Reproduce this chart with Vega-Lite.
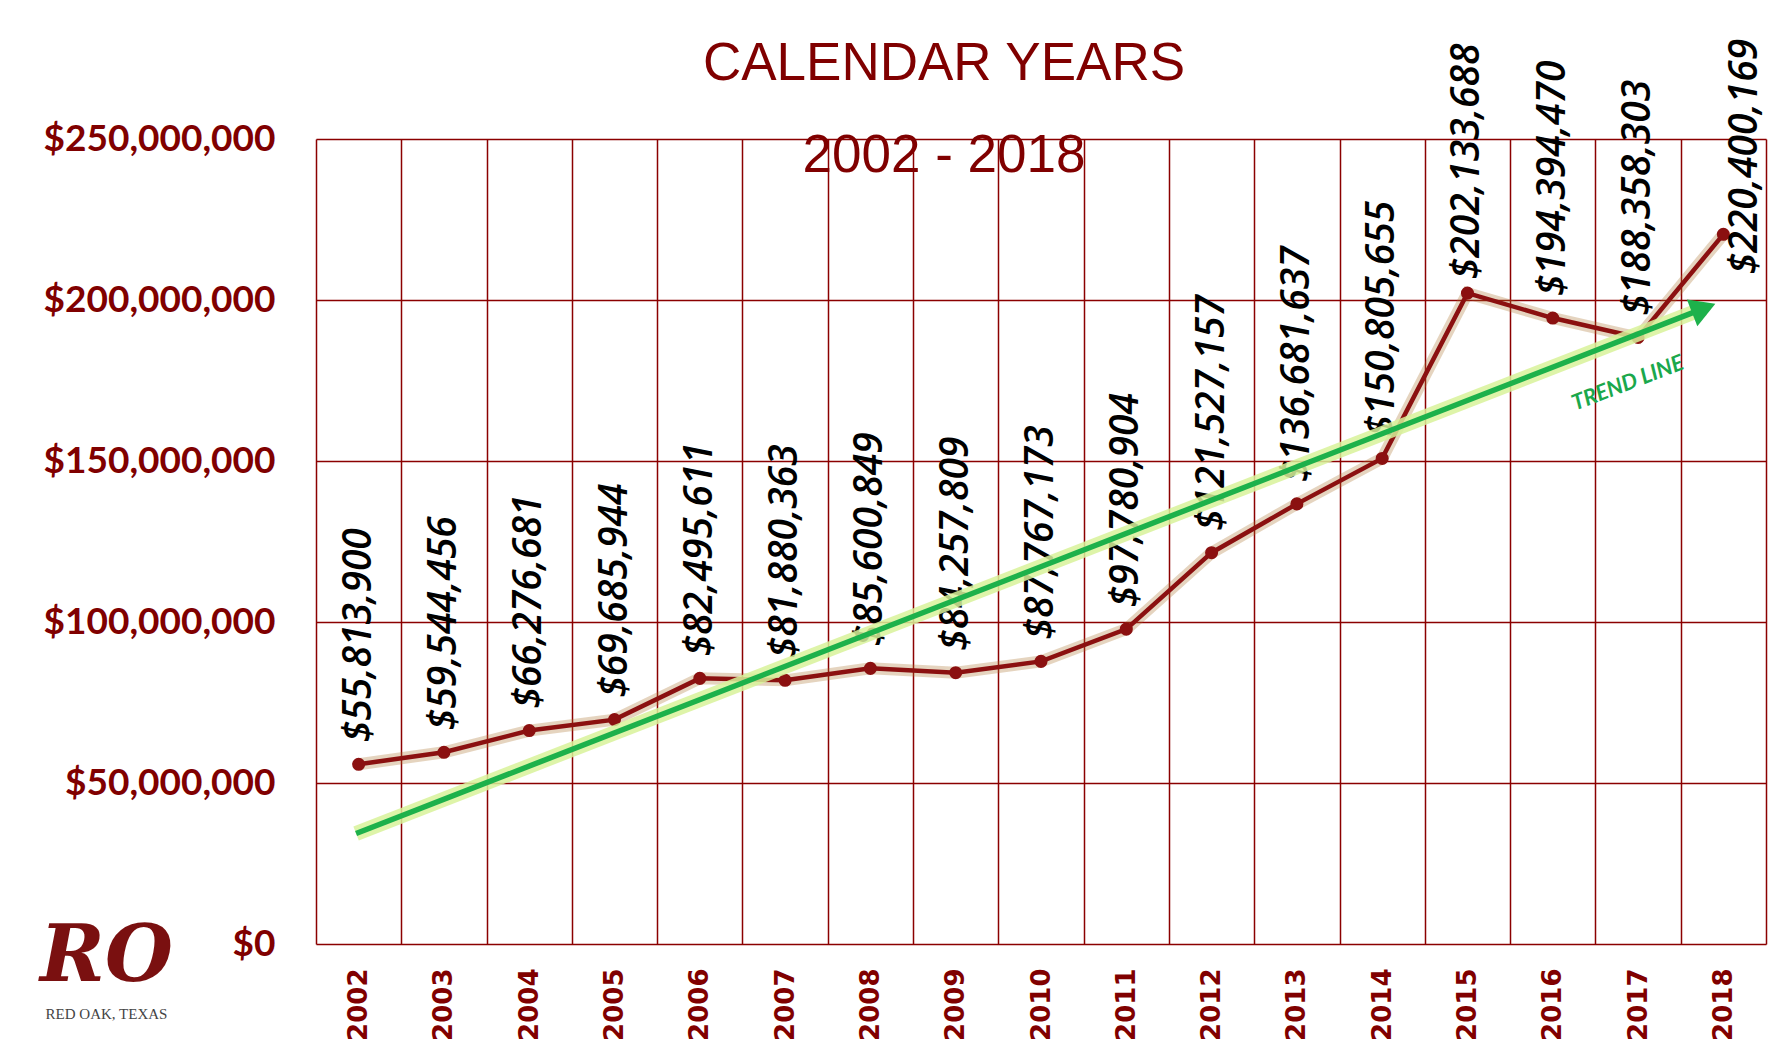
{
  "$schema": "https://vega.github.io/schema/vega-lite/v6.json",
  "width": 1450,
  "height": 805,
  "autosize": {"type": "none"},
  "padding": {"left": 316, "top": 139, "right": 17, "bottom": 112},
  "background": "white",
  "title": {
    "text": "CALENDAR YEARS",
    "subtitle": "2002 - 2018",
    "font": "Liberation Sans",
    "fontSize": 53,
    "fontWeight": "normal",
    "color": "#800000",
    "subtitleFont": "Liberation Sans",
    "subtitleFontSize": 53,
    "subtitleColor": "#800000",
    "subtitlePadding": 39,
    "anchor": "middle",
    "frame": "group",
    "offset": -144,
    "dx": -97
  },
  "datasets": {
    "main": [
      {"year": 2002, "value": 55813900},
      {"year": 2003, "value": 59544456},
      {"year": 2004, "value": 66276681},
      {"year": 2005, "value": 69685944},
      {"year": 2006, "value": 82495611},
      {"year": 2007, "value": 81880363},
      {"year": 2008, "value": 85600849},
      {"year": 2009, "value": 84257809},
      {"year": 2010, "value": 87767173},
      {"year": 2011, "value": 97780904},
      {"year": 2012, "value": 121527157},
      {"year": 2013, "value": 136681637},
      {"year": 2014, "value": 150805655},
      {"year": 2015, "value": 202133688},
      {"year": 2016, "value": 194394470},
      {"year": 2017, "value": 188358303},
      {"year": 2018, "value": 220400169}
    ],
    "trend": [
      {"year": 2001.97, "value": 34300000},
      {"year": 2017.77, "value": 197400000}
    ],
    "arrow": [
      {"year": 2017.77, "value": 197400000}
    ],
    "note": [
      {"year": 2016.88, "value": 174200000, "label": "TREND LINE"}
    ]
  },
  "resolve": {"scale": {"x": "independent"}},
  "layer": [
    {
      "data": {"name": "main"},
      "layer": [
        {
          "mark": {"type": "line", "color": "#a8702a", "strokeWidth": 12, "opacity": 0.3},
          "encoding": {}
        },
        {
          "mark": {"type": "line", "color": "#8b1010", "strokeWidth": 4.5, "point": {"filled": true, "size": 170, "color": "#8b1010"}},
          "encoding": {}
        },
        {
          "transform": [{"filter": "datum.year != 2015 && datum.year != 2018"}],
          "mark": {"type": "text", "angle": -90, "align": "left", "baseline": "middle", "dx": 22, "font": "Open Sans", "fontStyle": "italic", "fontWeight": 600, "fontSize": 39, "color": "#000000"},
          "encoding": {"text": {"field": "value", "type": "quantitative", "format": "$,.0f"}}
        },
        {
          "transform": [{"filter": "datum.year == 2015"}],
          "mark": {"type": "text", "angle": -90, "align": "left", "baseline": "middle", "dx": 14, "font": "Open Sans", "fontStyle": "italic", "fontWeight": 600, "fontSize": 39, "color": "#000000"},
          "encoding": {"text": {"field": "value", "type": "quantitative", "format": "$,.0f"}}
        },
        {
          "transform": [{"filter": "datum.year == 2018"}],
          "mark": {"type": "text", "angle": -90, "align": "left", "baseline": "middle", "dx": -40, "dy": 22, "font": "Open Sans", "fontStyle": "italic", "fontWeight": 600, "fontSize": 39, "color": "#000000"},
          "encoding": {"text": {"field": "value", "type": "quantitative", "format": "$,.0f"}}
        }
      ],
      "encoding": {
        "x": {
          "field": "year",
          "type": "ordinal",
          "scale": {"type": "band", "paddingInner": 0, "paddingOuter": 0},
          "axis": {
            "tickBand": "extent",
            "grid": true,
            "gridColor": "#8b0000",
            "gridWidth": 1.5,
            "ticks": false,
            "domain": false,
            "labelAngle": -90,
            "labelFont": "DejaVu Sans",
            "labelFontWeight": "bold",
            "labelFontSize": 26,
            "labelColor": "#800000",
            "labelPadding": 24,
            "title": "RED OAK, TEXAS",
            "titleFont": "Liberation Serif",
            "titleFontSize": 15,
            "titleFontWeight": "normal",
            "titleColor": "#444444",
            "titleAngle": 0,
            "titleX": -210,
            "titleY": 69,
            "titleAlign": "center",
            "titleBaseline": "middle"
          }
        },
        "y": {
          "field": "value",
          "type": "quantitative",
          "scale": {"domain": [0, 250000000], "nice": false},
          "axis": {
            "values": [0, 50000000, 100000000, 150000000, 200000000, 250000000],
            "format": "$,.0f",
            "grid": true,
            "gridColor": "#8b0000",
            "gridWidth": 1.5,
            "ticks": false,
            "domain": false,
            "labelFont": "Lato",
            "labelFontWeight": "bold",
            "labelFontSize": 37,
            "labelColor": "#800000",
            "labelPadding": 41,
            "labelLimit": 0,
            "title": "RO",
            "titleFont": "DejaVu Serif",
            "titleFontStyle": "italic",
            "titleFontWeight": "bold",
            "titleFontSize": 78,
            "titleColor": "#7a1010",
            "titleAngle": 0,
            "titleX": -210,
            "titleY": 818,
            "titleAlign": "center",
            "titleBaseline": "middle"
          }
        }
      }
    },
    {
      "data": {"name": "trend"},
      "mark": {"type": "line", "color": "#d8f29a", "strokeWidth": 15, "opacity": 0.85},
      "encoding": {
        "x": {"field": "year", "type": "quantitative", "scale": {"domain": [2001.5, 2018.5], "nice": false, "zero": false}, "axis": null},
        "y": {"field": "value", "type": "quantitative"}
      }
    },
    {
      "data": {"name": "trend"},
      "mark": {"type": "line", "color": "#1db14b", "strokeWidth": 5.5},
      "encoding": {
        "x": {"field": "year", "type": "quantitative", "scale": {"domain": [2001.5, 2018.5], "nice": false, "zero": false}, "axis": null},
        "y": {"field": "value", "type": "quantitative"}
      }
    },
    {
      "data": {"name": "arrow"},
      "mark": {"type": "point", "shape": "triangle-right", "filled": true, "size": 830, "angle": -21.3, "color": "#1db14b", "opacity": 1},
      "encoding": {
        "x": {"field": "year", "type": "quantitative", "scale": {"domain": [2001.5, 2018.5], "nice": false, "zero": false}, "axis": null},
        "y": {"field": "value", "type": "quantitative"}
      }
    },
    {
      "data": {"name": "note"},
      "mark": {"type": "text", "angle": -21, "align": "center", "baseline": "middle", "font": "Lato", "fontStyle": "italic", "fontWeight": "bold", "fontSize": 22, "color": "#1aa84c"},
      "encoding": {
        "x": {"field": "year", "type": "quantitative", "scale": {"domain": [2001.5, 2018.5], "nice": false, "zero": false}, "axis": null},
        "y": {"field": "value", "type": "quantitative"},
        "text": {"field": "label", "type": "nominal"}
      }
    }
  ],
  "config": {
    "view": {"stroke": null}
  }
}
